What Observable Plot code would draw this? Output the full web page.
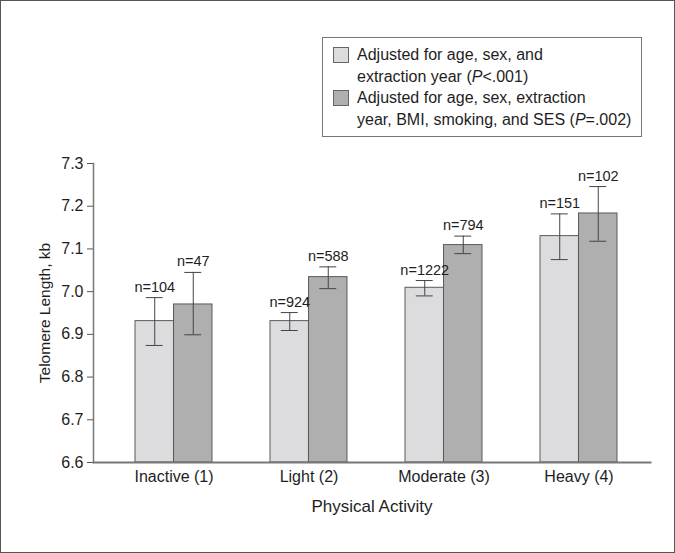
<!DOCTYPE html>
<html>
<head>
<meta charset="utf-8">
<script src="https://cdn.jsdelivr.net/npm/d3@7"></script>
<script src="https://cdn.jsdelivr.net/npm/@observablehq/plot@0.6"></script>
<style>
  html, body { margin: 0; padding: 0; background: #fff; }
  #wrap { position: relative; width: 675px; height: 553px; font-family: "Liberation Sans", Arial, sans-serif; color: #1e1e1e; }
  #wrap svg { display: block; outline: 1px solid #555; outline-offset: -1px; }
  #legend { position: absolute; left: 322px; top: 37px; width: 320px; height: 100px; box-sizing: border-box; border: 1px solid #777; background: #fff; padding: 6px 6px 6px 10px; font-size: 16px; line-height: 21.5px; white-space: nowrap; }
  .item { display: flex; align-items: flex-start; }
  .sw { width: 14px; height: 14px; border: 1px solid #666; margin: 3px 8px 0 0; flex: none; }
</style>
</head>
<body>
<div id="wrap"></div>
<script>
const categories = ["Inactive (1)", "Light (2)", "Moderate (3)", "Heavy (4)"];
const seriesLabels = [
  "Adjusted for age, sex, and<br>extraction year (<i>P</i>&lt;.001)",
  "Adjusted for age, sex, extraction<br>year, BMI, smoking, and SES (<i>P</i>=.002)"
];
const seriesColors = ["#dcdcde", "#afafaf"];
const model1Mean = [6.931, 6.931, 7.009, 7.130];
const model1Lo   = [6.874, 6.909, 6.990, 7.075];
const model1Hi   = [6.986, 6.951, 7.026, 7.182];
const model1N    = [104, 924, 1222, 151];
const model2Mean = [6.970, 7.034, 7.109, 7.183];
const model2Lo   = [6.899, 7.007, 7.089, 7.118];
const model2Hi   = [7.045, 7.058, 7.130, 7.246];
const model2N    = [47, 588, 794, 102];
const yTicks = [6.6, 6.7, 6.8, 6.9, 7.0, 7.1, 7.2, 7.3];

const W = 675, H = 553, mL = 93, mR = 25, mT = 163, mB = 91;
const xPad = {paddingInner: 0.43, paddingOuter: 0.275, align: 0.56};
const bw = d3.scaleBand(categories, [mL, W - mR]).paddingInner(xPad.paddingInner).paddingOuter(xPad.paddingOuter).align(xPad.align).bandwidth();
const half = bw / 2;
const capHalf = 8.5;

const m1 = categories.map((c, i) => ({cat: c, mean: model1Mean[i], lo: model1Lo[i], hi: model1Hi[i], n: model1N[i]}));
const m2 = categories.map((c, i) => ({cat: c, mean: model2Mean[i], lo: model2Lo[i], hi: model2Hi[i], n: model2N[i]}));

const font = '"Liberation Sans", Arial, sans-serif';

const plot = Plot.plot({
  width: W, height: H,
  marginLeft: mL, marginRight: mR, marginTop: mT, marginBottom: mB,
  style: {fontFamily: font, color: "#1e1e1e", background: "#fff"},
  x: {domain: categories, ...xPad, label: null},
  y: {domain: [6.6, 7.3], label: null},
  marks: [
    Plot.barY(m1, {x: "cat", y1: () => 6.6, y2: "mean", fill: seriesColors[0], stroke: "#5a5a5a", strokeWidth: 1, insetRight: half}),
    Plot.barY(m2, {x: "cat", y1: () => 6.6, y2: "mean", fill: seriesColors[1], stroke: "#5a5a5a", strokeWidth: 1, insetLeft: half}),
    Plot.ruleX(m1, {x: "cat", y1: "lo", y2: "hi", dx: -half / 2, stroke: "#444", strokeWidth: 1}),
    Plot.ruleX(m2, {x: "cat", y1: "lo", y2: "hi", dx: half / 2, stroke: "#444", strokeWidth: 1}),
    Plot.tickY(m1, {x: "cat", y: "lo", insetLeft: half / 2 - capHalf, insetRight: bw - half / 2 - capHalf, stroke: "#444"}),
    Plot.tickY(m1, {x: "cat", y: "hi", insetLeft: half / 2 - capHalf, insetRight: bw - half / 2 - capHalf, stroke: "#444"}),
    Plot.tickY(m2, {x: "cat", y: "lo", insetLeft: 1.5 * half - capHalf, insetRight: half / 2 - capHalf, stroke: "#444"}),
    Plot.tickY(m2, {x: "cat", y: "hi", insetLeft: 1.5 * half - capHalf, insetRight: half / 2 - capHalf, stroke: "#444"}),
    Plot.text(m1, {x: "cat", y: "hi", dx: -half / 2, dy: -6, lineAnchor: "bottom", text: d => "n=" + d.n, fontSize: 14.5, fill: "#1e1e1e"}),
    Plot.text(m2, {x: "cat", y: "hi", dx: half / 2, dy: -6, lineAnchor: "bottom", text: d => "n=" + d.n, fontSize: 14.5, fill: "#1e1e1e"}),
    Plot.axisY({ticks: yTicks, tickFormat: d3.format(".1f"), tickSize: 6, tickPadding: 4, fontSize: 16, label: null, stroke: "#555"}),
    Plot.axisX({tickSize: 0, tickPadding: 8, fontSize: 16, label: null}),
    Plot.frame({anchor: "left", stroke: "#777", strokeWidth: 1.5}),
    Plot.frame({anchor: "bottom", stroke: "#777", strokeWidth: 2}),
    Plot.text(["Telomere Length, kb"], {frameAnchor: "left", rotate: -90, dx: -48, textAnchor: "middle", lineAnchor: "middle", fontSize: 15.5, fill: "#1e1e1e"}),
    Plot.text(["Physical Activity"], {frameAnchor: "bottom", dy: 44, textAnchor: "middle", lineAnchor: "middle", fontSize: 17, fill: "#1e1e1e"})
  ]
});

const wrap = document.getElementById("wrap");
wrap.appendChild(plot);
const legend = document.createElement("div");
legend.id = "legend";
legend.innerHTML = seriesLabels.map((t, i) =>
  `<div class="item"><span class="sw" style="background:${seriesColors[i]}"></span><span>${t}</span></div>`).join("");
wrap.appendChild(legend);
</script>
</body>
</html>
